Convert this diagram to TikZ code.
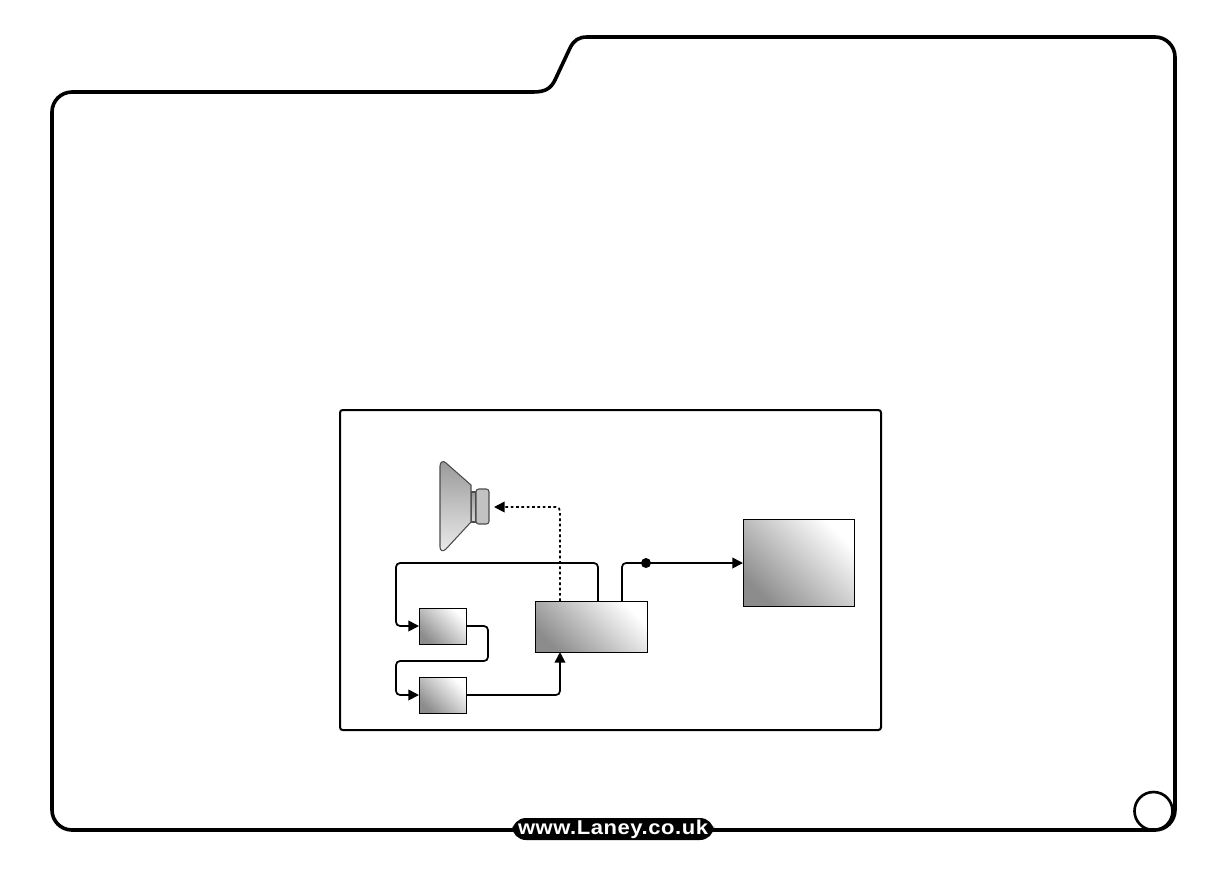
\documentclass[tikz,border=0pt]{standalone}
\usepackage{fontspec}
\usepackage{tikz}
\usetikzlibrary{arrows.meta,calc,positioning}
\newfontfamily\urlfont[FakeStretch=1.1,LetterSpace=2.8,BoldFont={Liberation Sans Bold}]{Liberation Sans}
\def\px{0.75pt}
\tikzset{
  unit/.style={draw=black,line width=0.7pt,inner sep=0,outer sep=0,
    bottom color=black!45,top color=white,shading angle=-45},
  link/.style={line width=1.3pt,rounded corners=3pt,-{Triangle[length=8pt,width=8pt]}},
  drivelink/.style={link,dash pattern=on 2pt off 2pt},
  cone/.style={draw=black!70,line width=0.8pt},
}
\begin{document}
\begin{tikzpicture}[x=\px,y=-\px]
  \useasboundingbox (0,0) rectangle (1228,876);

  % page outline with the tab
  \draw[line width=2.7pt,rounded corners=15pt] (52,400) -- (52,92) -- (533,92);
  \draw[line width=2.7pt] (533,92) .. controls (546,92) and (551,88) .. (555,80)
    -- (570,48) .. controls (574,40) and (579,37) .. (587,37);
  \draw[line width=2.7pt,rounded corners=15pt] (587,37) -- (1175,37) -- (1175,830)
    -- (52,830) -- (52,400);
  \node[draw,line width=2pt,circle,minimum size=38*\px,inner sep=0] (pagenum) at (1153.5,811) {};

  \node[fill=black,rounded corners=10.5pt,minimum width=202*\px,minimum height=22*\px,inner sep=0,
    text=white,font=\urlfont\bfseries\fontsize{15}{16}\selectfont] (url) at (613,829) {www.Laney.co.uk};

  \draw[line width=1.5pt,rounded corners=2pt] (340,410) rectangle (881,730);

  % speaker
  \draw[cone,top color=black!40,bottom color=black!15] (471,492) rectangle (476,522);
  \draw[cone,rounded corners=2pt,fill=black!24] (476,489) -- (489,489) -- (489,524) -- (476,524) -- cycle;
  \draw[cone,top color=black!40,bottom color=black!8]
    (440,466) .. controls (440,462) and (443,460) .. (446,463) -- (471,485) -- (471,522)
    -- (446,549) .. controls (443,552) and (440,551) .. (440,547) -- cycle;
  \coordinate (speaker) at (494,507);

  \node[unit,minimum width=112*\px,minimum height=51*\px] (amp) at (591,626.5) {};
  \node[unit,minimum width=47*\px,minimum height=36*\px] (fxone) at (442.5,626) {};
  \node[unit,minimum width=47*\px,minimum height=36*\px] (fxtwo) at (442.5,695) {};
  \node[unit,minimum width=111*\px,minimum height=87*\px] (cab) at (798.5,562.5) {};

  \coordinate (sendout) at ($(amp.north)+(7,0)$);
  \coordinate (lineout) at ($(amp.north)+(31,0)$);
  \coordinate (driveout) at ($(amp.north)+(-31,0)$);
  \coordinate (returnin) at ($(amp.south)+(-31,0)$);

  \draw[drivelink] (driveout) -- (driveout |- speaker) -- (speaker);
  \draw[link] (sendout) -- (598,563) -- (396,563) -- (396,626) -- (fxone.west);
  \draw[link] (fxone.east) -- (488,626) -- (488,661) -- (396,661) -- (396,695) -- (fxtwo.west);
  \draw[link] (fxtwo.east) -- (returnin |- fxtwo.east) -- (returnin);
  \draw[link] (lineout) -- (622,563) -- (cab.west |- 622,563);
  \node[fill=black,circle,minimum size=10*\px,inner sep=0] (tap) at (646,563) {};
\end{tikzpicture}
\end{document}
